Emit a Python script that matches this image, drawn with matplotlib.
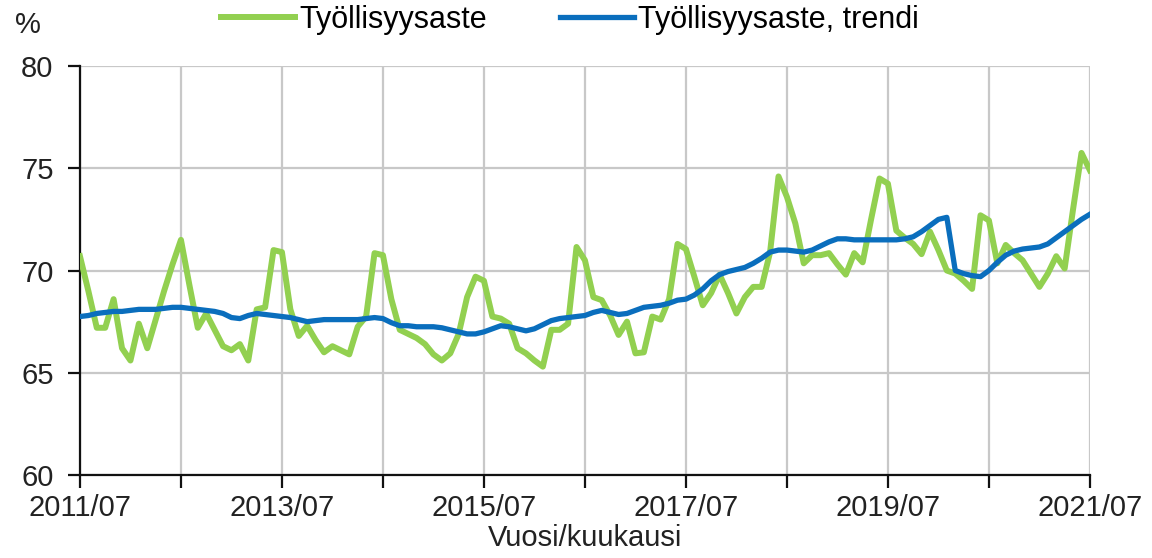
import matplotlib
matplotlib.use("Agg")
import matplotlib.pyplot as plt

# Monthly values 2011/07 .. 2021/07 (%)
rate = [
    70.7, 69.0, 67.2, 67.2, 68.6, 66.2, 65.6, 67.4, 66.2, 67.6, 69.0, 70.3,
    71.5, 69.3, 67.2, 67.9, 67.1, 66.3, 66.1, 66.4, 65.6, 68.1, 68.2, 71.0,
    70.9, 68.1, 66.8, 67.3, 66.6, 66.0, 66.3, 66.1, 65.9, 67.25, 67.75, 70.85,
    70.75, 68.6, 67.1, 66.9, 66.7, 66.4, 65.9, 65.6, 65.95, 66.9, 68.7, 69.7,
    69.5, 67.75, 67.65, 67.4, 66.2, 65.95, 65.6, 65.3, 67.1, 67.1, 67.4, 71.15,
    70.5, 68.7, 68.55, 67.8, 66.85, 67.5, 65.95, 66.0, 67.75, 67.6, 68.6, 71.3,
    71.05, 69.7, 68.3, 68.9, 69.8, 68.9, 67.9, 68.7, 69.2, 69.2, 70.9, 74.6,
    73.6, 72.3, 70.35, 70.75, 70.75, 70.85, 70.3, 69.8, 70.85, 70.4, 72.5, 74.5,
    74.25, 71.95, 71.6, 71.3, 70.8, 71.9, 71.0, 70.0, 69.85, 69.5, 69.1, 72.7,
    72.45, 70.35, 71.25, 70.85, 70.5, 69.85, 69.2, 69.85, 70.7, 70.1, 73.0, 75.75,
    74.9,
]
trend = [
    67.75, 67.8, 67.9, 67.95, 68.0, 68.0, 68.05, 68.1, 68.1, 68.1, 68.15, 68.2,
    68.2, 68.15, 68.1, 68.05, 68.0, 67.9, 67.7, 67.65, 67.8, 67.9, 67.85, 67.8,
    67.75, 67.7, 67.6, 67.5, 67.55, 67.6, 67.6, 67.6, 67.6, 67.6, 67.65, 67.7,
    67.65, 67.45, 67.3, 67.3, 67.25, 67.25, 67.25, 67.2, 67.1, 67.0, 66.9, 66.9,
    67.0, 67.15, 67.3, 67.25, 67.15, 67.05, 67.15, 67.35, 67.55, 67.65, 67.7, 67.75,
    67.8, 67.95, 68.05, 67.95, 67.85, 67.9, 68.05, 68.2, 68.25, 68.3, 68.4, 68.55,
    68.6, 68.8, 69.1, 69.5, 69.8, 69.95, 70.05, 70.15, 70.35, 70.6, 70.9, 71.0,
    71.0, 70.95, 70.9, 71.0, 71.2, 71.4, 71.55, 71.55, 71.5, 71.5, 71.5, 71.5,
    71.5, 71.5, 71.55, 71.65, 71.9, 72.2, 72.5, 72.6, 70.0, 69.85, 69.75, 69.7,
    70.0, 70.4, 70.75, 70.95, 71.05, 71.1, 71.15, 71.3, 71.6, 71.9, 72.2, 72.5,
    72.75,
]
tick_labels = ["2011/07", "", "2013/07", "", "2015/07", "", "2017/07", "",
               "2019/07", "", "2021/07"]
y_ticks = [60, 65, 70, 75, 80]

plt.rcParams['font.family'] = ['Liberation Sans', 'DejaVu Sans']
plt.rcParams['font.size'] = 21

fig = plt.figure(figsize=(11.52, 5.58), dpi=100)
ax = fig.add_axes([0.0694, 0.1487, 0.8767, 0.733])

months = list(range(len(rate)))
ax.plot(months, rate, color='#92D050', linewidth=4.3, label='Työllisyysaste', zorder=3)
ax.plot(months, trend, color='#0A6EBD', linewidth=3.8, label='Työllisyysaste, trendi', zorder=4)

ax.set_xlim(0, 120)
ax.set_ylim(60, 80)
ax.set_xticks(range(0, 121, 12))
ax.set_xticklabels(tick_labels)
ax.set_yticks(y_ticks)

ax.grid(True, color='#c8c8c8', linewidth=1.6)
ax.set_axisbelow(True)
for s in ['top', 'right']:
    ax.spines[s].set_visible(False)
for s in ['left', 'bottom']:
    ax.spines[s].set_linewidth(1.6)
    ax.spines[s].set_color('#111111')
ax.tick_params(axis='both', direction='out', length=9, width=1.6, color='#111111',
               labelcolor='#222222', labelsize=21)
ax.tick_params(axis='x', pad=5)
ax.tick_params(axis='y', pad=10)

ax.set_xlabel('Vuosi/kuukausi', fontsize=21, color='#222222', labelpad=1)
fig.text(0.013, 0.955, '%', fontsize=21, color='#222222', va='center')

fig.legend(loc='center', bbox_to_anchor=(0.495, 0.965), ncol=2, frameon=False,
           handlelength=2.4, handletextpad=0.15, columnspacing=2.4, fontsize=22)

plt.savefig('out.png', dpi=100)
